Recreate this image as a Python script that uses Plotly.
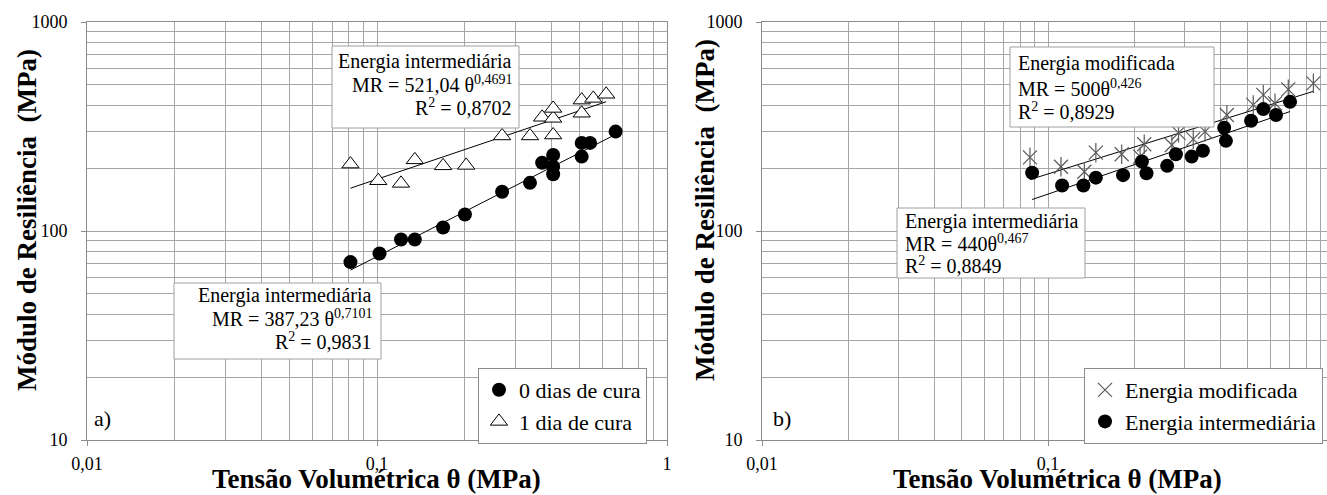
import numpy as np
import plotly.graph_objects as go

W, H = 1327, 495
FONT = "Liberation Serif"

# ---------------- data ----------------
# panel a) 0 dias de cura (filled circles)
a0_x = [0.081, 0.102, 0.121, 0.135, 0.169, 0.201, 0.270, 0.337, 0.371, 0.405, 0.405, 0.405, 0.508, 0.543, 0.508, 0.665]
a0_y = [71, 78, 91, 91, 104, 120, 154, 170, 212, 231, 203, 187, 264, 264, 227, 299]
# panel a) 1 dia de cura (open triangles)
a1_x = [0.081, 0.101, 0.121, 0.135, 0.169, 0.203, 0.270, 0.337, 0.405, 0.371, 0.405, 0.405, 0.508, 0.508, 0.557, 0.617]
a1_y = [209, 174, 169, 219, 205, 206, 285, 285, 288, 350, 346, 386, 366, 423, 431, 451]
# panel b) Energia modificada (asterisks)
bm_x = [0.0865, 0.111, 0.134, 0.147, 0.181, 0.217, 0.210, 0.271, 0.286, 0.322, 0.354, 0.422, 0.522, 0.566, 0.622, 0.692, 0.847]
bm_y = [225, 203, 192, 237, 233, 260, 227, 258, 295, 275, 299, 359, 401, 448, 408, 476, 509]
# panel b) Energia intermediária (filled circles)
bi_x = [0.088, 0.112, 0.133, 0.147, 0.183, 0.213, 0.221, 0.261, 0.280, 0.318, 0.348, 0.413, 0.419, 0.513, 0.566, 0.627, 0.702]
bi_y = [190, 165, 165, 180, 185, 215, 189, 205, 233, 227, 242, 312, 270, 337, 383, 359, 415]

# power-law fits shown on the chart: MR = k * theta^n
fit_a0 = (387.23, 0.7101)
fit_a1 = (521.04, 0.4691)
fit_bm = (500.0, 0.426)
fit_bi = (440.0, 0.467)

x_tick_vals = [0.01, 0.1, 1]
x_tick_text = ["0,01", "0,1", "1"]
y_tick_vals = [10, 100, 1000]
y_tick_text = ["10", "100", "1000"]

minor_vals = [m * 10.0 ** k for k in range(-3, 4) for m in range(2, 10)]


def fit_curve(coef, xs):
    k, n = coef
    xx = np.geomspace(min(xs), max(xs), 30)
    return xx, k * xx ** n


def px_x(p):
    return p / W


def px_y(p):
    return 1 - p / H


fig = go.Figure()

# trend lines
for coef, xs, xa, ya in [(fit_a0, a0_x, "x", "y"), (fit_a1, a1_x, "x", "y"),
                         (fit_bm, bm_x, "x2", "y2"), (fit_bi, bi_x, "x2", "y2")]:
    xx, yy = fit_curve(coef, xs)
    fig.add_trace(go.Scatter(x=xx, y=yy, mode="lines", xaxis=xa, yaxis=ya,
                             line=dict(color="black", width=1), showlegend=False,
                             hoverinfo="skip"))

# panel a markers
fig.add_trace(go.Scatter(x=a0_x, y=a0_y, mode="markers", name="0 dias de cura",
                         marker=dict(symbol="circle", size=14, color="black"),
                         legend="legend", legendgroup="a0"))
fig.add_trace(go.Scatter(x=a1_x, y=a1_y, mode="markers", name="1 dia de cura",
                         marker=dict(symbol="triangle-up", size=15, color="white",
                                     line=dict(color="black", width=1)),
                         legend="legend", legendgroup="a1"))

# panel b markers
fig.add_trace(go.Scatter(x=bm_x, y=bm_y, mode="markers", name="Energia modificada",
                         xaxis="x2", yaxis="y2",
                         marker=dict(symbol="x-thin-open", size=14, color="#5a5a5a",
                                     line=dict(color="#5a5a5a", width=1.2)),
                         legend="legend2", legendgroup="bm"))
fig.add_trace(go.Scatter(x=bm_x, y=bm_y, mode="markers", showlegend=False,
                         xaxis="x2", yaxis="y2", hoverinfo="skip",
                         marker=dict(symbol="line-ns-open", size=14, color="#5a5a5a",
                                     line=dict(color="#5a5a5a", width=1.2))))
fig.add_trace(go.Scatter(x=bi_x, y=bi_y, mode="markers", name="Energia intermediária",
                         xaxis="x2", yaxis="y2",
                         marker=dict(symbol="circle", size=14, color="black"),
                         legend="legend2", legendgroup="bi"))

GRID = "#a6a6a6"
LINE = "#8c8c8c"
tickfont = dict(family=FONT, size=18, color="black")


def xaxis(domain, rng, anchor):
    return dict(type="log", domain=domain, range=rng, anchor=anchor, automargin=False,
                tickmode="array", tickvals=x_tick_vals, ticktext=x_tick_text,
                showline=True, linecolor=LINE, linewidth=1, mirror=True,
                showgrid=True, gridcolor=GRID, gridwidth=1, zeroline=False,
                ticks="outside", ticklen=5, tickcolor=LINE, ticklabelstandoff=2,
                tickfont=tickfont,
                minor=dict(tickmode="array", tickvals=minor_vals, showgrid=True,
                           gridcolor=GRID, gridwidth=1, ticks=""))


def yaxis(domain, anchor):
    return dict(type="log", domain=domain, range=[1, 3], anchor=anchor, automargin=False,
                tickmode="array", tickvals=y_tick_vals, ticktext=y_tick_text,
                showline=True, linecolor=LINE, linewidth=1, mirror=True,
                showgrid=True, gridcolor=GRID, gridwidth=1, zeroline=False,
                ticks="outside", ticklen=5, tickcolor=LINE, ticklabelstandoff=10,
                tickfont=tickfont,
                minor=dict(tickmode="array", tickvals=minor_vals, showgrid=True,
                           gridcolor=GRID, gridwidth=1, ticks=""))


ydom = [px_y(440), px_y(22)]
x2_end = -2 + (W - 762) / 286.0

legend_common = dict(bgcolor="white", bordercolor=LINE, borderwidth=1,
                     font=dict(family=FONT, size=22, color="black"),
                     itemwidth=30, tracegroupgap=0, xanchor="left", yanchor="top")

shapes = []
annotations = []


def box(x0, y0, x1, y1):
    shapes.append(dict(type="rect", xref="paper", yref="paper",
                       x0=px_x(x0), x1=px_x(x1), y0=px_y(y1), y1=px_y(y0),
                       fillcolor="white", line=dict(color="#a0a0a0", width=1),
                       layer="above"))


def text(s, x, y, anchor, size=20):
    annotations.append(dict(text=s, x=px_x(x), y=px_y(y), xref="paper", yref="paper",
                            xanchor=anchor, yanchor="middle", showarrow=False,
                            font=dict(family=FONT, size=size, color="black")))


# equation boxes panel a
box(332, 46, 519, 128)
text("Energia intermediária", 514, 61, "right")
text("MR = 521,04 θ<sup>0,4691</sup>", 514, 84, "right")
text("R<sup>2</sup> = 0,8702", 514, 107, "right")

box(174, 283, 381, 359)
text("Energia intermediária", 374, 295, "right")
text("MR = 387,23 θ<sup>0,7101</sup>", 374, 318, "right")
text("R<sup>2</sup> = 0,9831", 374, 341, "right")

# equation boxes panel b
box(1010, 47, 1214, 127)
text("Energia modificada", 1016, 64, "left")
text("MR = 500θ<sup>0,426</sup>", 1016, 88, "left")
text("R<sup>2</sup> = 0,8929", 1016, 111, "left")

box(897, 208, 1085, 278)
text("Energia intermediária", 903, 221, "left")
text("MR = 440θ<sup>0,467</sup>", 903, 243, "left")
text("R<sup>2</sup> = 0,8849", 903, 265, "left")

# panel labels
text("a)", 92, 418, "left", size=22)
text("b)", 771, 418, "left", size=22)

# axis titles
for cx in (376, 1057):
    annotations.append(dict(text="<b>Tensão Volumétrica θ (MPa)</b>", x=px_x(cx), y=px_y(479),
                            xref="paper", yref="paper", xanchor="center", yanchor="middle",
                            showarrow=False, font=dict(family=FONT, size=27, color="black")))
for cx, cy in ((27, 220), (705, 210)):
    annotations.append(dict(text="<b>Módulo de Resiliência  (MPa)</b>", x=px_x(cx), y=px_y(cy),
                            xref="paper", yref="paper", xanchor="center", yanchor="middle",
                            textangle=-90, showarrow=False,
                            font=dict(family=FONT, size=27, color="black")))

fig.update_layout(
    width=W, height=H,
    margin=dict(l=0, r=0, t=0, b=0, pad=0),
    paper_bgcolor="white", plot_bgcolor="white",
    font=dict(family=FONT, color="black"),
    xaxis=xaxis([px_x(87), px_x(667)], [-2, 0], "y"),
    yaxis=yaxis(ydom, "x"),
    xaxis2=xaxis([px_x(762), 1.0], [-2, x2_end], "y2"),
    yaxis2=yaxis(ydom, "x2"),
    legend=dict(x=px_x(478), y=px_y(368), **legend_common),
    legend2=dict(x=px_x(1084), y=px_y(368), **legend_common),
    shapes=shapes,
    annotations=annotations,
)

fig.write_html("out.html")
